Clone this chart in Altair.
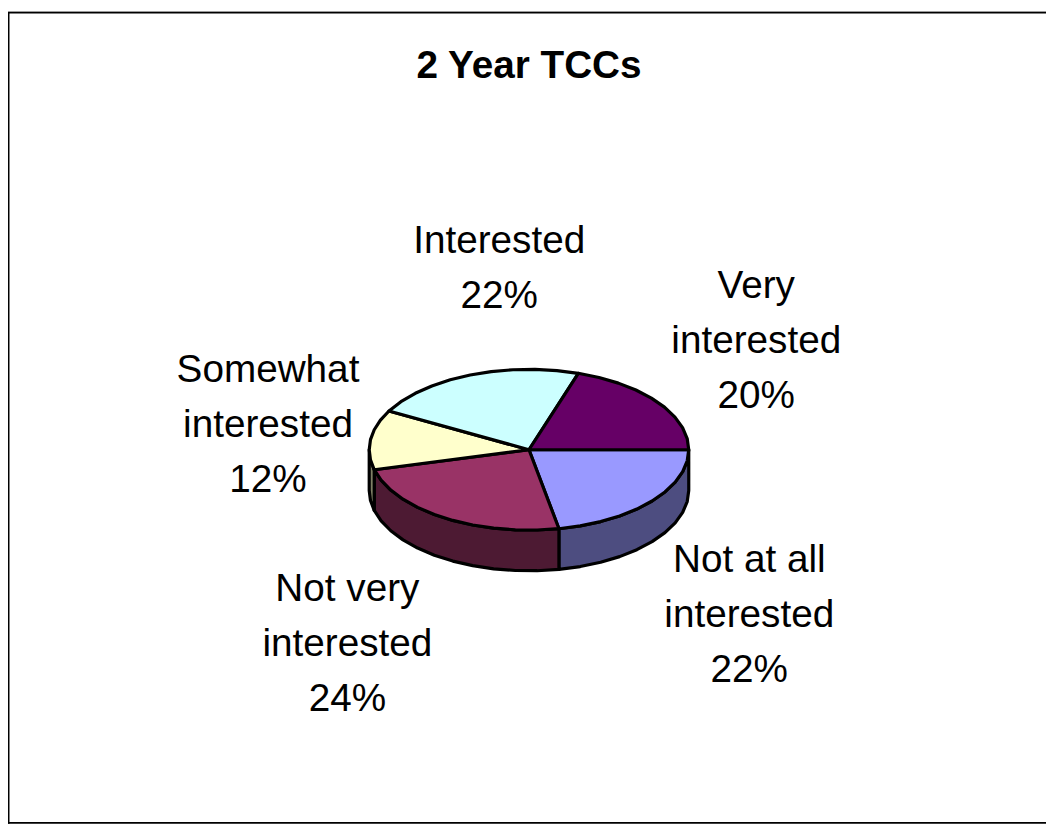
import math
import altair as alt
import pandas as pd

categories = ["Not at all interested", "Not very interested", "Somewhat interested", "Interested", "Very interested"]
values = [22, 24, 12, 22, 20]
label_lines = ["Not at all\ninterested", "Not very\ninterested", "Somewhat\ninterested", "Interested", "Very\ninterested"]
chart_title = "2 Year TCCs"
top_colors = ["#9999FF", "#993366", "#FFFFCC", "#CCFFFF", "#660066"]
wall_colors = ["#4D4D80", "#4D1A33", "#808066", "#668080", "#330033"]

W, H = 1046, 819
CX, CY, A, B, DEPTH = 525, 442, 161, 81, 41
STEP = 8
FONT = "Liberation Sans"
# anchor of each label's first line, in plot pixels
LABEL_ANCHORS = [(747, 553), (342, 582), (262, 362), (495, 232), (754, 277)]
TITLE_ANCHOR = (525, 55)


def arc(t0, t1):
    n = max(2, math.ceil((t1 - t0) / STEP))
    return [t0 + (t1 - t0) * i / n for i in range(n + 1)]


def pt(t, drop=0):
    r = math.radians(t)
    return CX + A * math.cos(r), CY + B * math.sin(r) + drop


tops, walls = [], []
acc = 0
total = sum(values)
for cat, v in zip(categories, values):
    t0, t1 = acc / total * 360, (acc + v) / total * 360
    acc += v
    poly = [(CX, CY)] + [pt(t) for t in arc(t0, t1)] + [(CX, CY)]
    tops += [{"slice": cat, "i": i, "x": x, "y": y} for i, (x, y) in enumerate(poly)]
    w0, w1 = t0, min(t1, 180)
    if w1 > w0:
        a = arc(w0, w1)
        poly = [pt(t) for t in a] + [pt(t, DEPTH) for t in reversed(a)]
        poly.append(poly[0])
        walls += [{"slice": cat, "i": i, "x": x, "y": y} for i, (x, y) in enumerate(poly)]

x_enc = alt.X("x:Q", axis=None, scale=alt.Scale(domain=[0, W], range=[0, W], nice=False, zero=False))
y_enc = alt.Y("y:Q", axis=None, scale=alt.Scale(domain=[0, H], range=[0, H], nice=False, zero=False))


def polys(rows, colors):
    return alt.Chart(pd.DataFrame(rows)).mark_line(
        stroke="black", strokeWidth=3.2, strokeJoin="round", clip=False
    ).encode(
        x=x_enc, y=y_enc, order="i:Q", detail="slice:N",
        fill=alt.Fill("slice:N", scale=alt.Scale(domain=categories, range=colors), legend=None),
    )


labels = pd.DataFrame({
    "text": [f"{l}\n{v}%" for l, v in zip(label_lines, values)],
    "x": [p[0] for p in LABEL_ANCHORS],
    "y": [p[1] for p in LABEL_ANCHORS],
})
text = alt.Chart(labels).mark_text(
    font=FONT, fontSize=39, lineBreak="\n", lineHeight=55.5, baseline="middle", align="center", color="black"
).encode(x=x_enc, y=y_enc, text="text:N")

title = alt.Chart(pd.DataFrame({"text": [chart_title], "x": [TITLE_ANCHOR[0]], "y": [TITLE_ANCHOR[1]]})).mark_text(
    font=FONT, fontSize=39, fontWeight="bold", baseline="middle", align="center", color="black"
).encode(x=x_enc, y=y_enc, text="text:N")

one = pd.DataFrame({"a": [0]})
frame_left = alt.Chart(one).mark_rule(color="black", strokeWidth=2).encode(
    x=alt.value(0.5), y=alt.value(1), y2=alt.value(H))
frame_top_gray = alt.Chart(one).mark_rule(color="#8c8c8c", strokeWidth=1).encode(
    y=alt.value(0.5), x=alt.value(0), x2=alt.value(W))
frame_top = alt.Chart(one).mark_rule(color="black", strokeWidth=1.5).encode(
    y=alt.value(1.7), x=alt.value(0), x2=alt.value(W))
shadow = alt.Chart(one).mark_rect(color="black").encode(
    x=alt.value(0), x2=alt.value(W), y=alt.value(H - 2), y2=alt.value(H))

chart = alt.layer(
    frame_top_gray, frame_top, frame_left, shadow,
    polys(walls, wall_colors), polys(tops, top_colors), text, title,
).resolve_scale(fill="independent").properties(
    width=W, height=H, padding=0, autosize=alt.AutoSizeParams(type="none"),
    background="white",
).configure_view(stroke=None)

chart.save("out.html", embed_options={"renderer": "svg", "actions": False})
